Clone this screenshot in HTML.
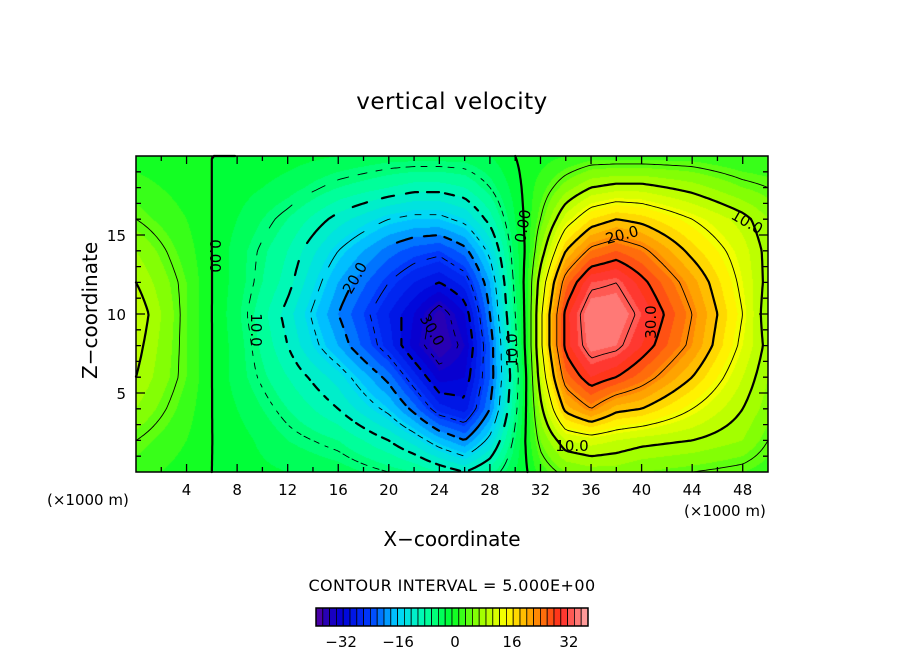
<!DOCTYPE html>
<html><head><meta charset="utf-8"><style>
body{margin:0;background:#fff;width:904px;height:654px;position:relative;overflow:hidden;font-family:"DejaVu Sans","Liberation Sans",sans-serif}
.t{position:absolute;color:#000;white-space:nowrap}
</style></head><body>
<div class="t" style="left:0;width:904px;text-align:center;top:89px;font-size:23px;letter-spacing:0.5px">vertical velocity</div>
<div class="t" style="left:0;width:904px;text-align:center;top:527px;font-size:20px">X&#8722;coordinate</div>
<div class="t" style="left:25px;top:302px;font-size:20px;transform:rotate(-90deg);transform-origin:center;width:130px;text-align:center">Z&#8722;coordinate</div>
<div class="t" style="left:47px;top:491px;font-size:15px">(×1000 m)</div>
<div class="t" style="left:684px;top:502px;font-size:15px">(×1000 m)</div>
<div class="t" style="left:0;width:904px;text-align:center;top:576px;font-size:16px;letter-spacing:0.4px">CONTOUR INTERVAL = 5.000E+00</div>
<canvas id="cv" width="632" height="316" style="position:absolute;left:136px;top:156px"></canvas>
<svg id="sv" width="904" height="654" style="position:absolute;left:0;top:0"></svg>
<script>
const xs=[0,4,6,8,12,16,20,22,24,26,28,30,31,32,34,36,38,40,44,48,50];
const zs=[20,18,16,14,12,10,8,6,4,2,0];
const rowZ20=[1,0,0,0,-1,-2,-3,-3,-3,-3,-2,0,1,1,2,3,3,3,3,2,2];
const rowZ18=[3,1,0,-1,-3,-6,-8,-9,-9,-8,-5,-1,1,3,7,10,11,11,9,6,5];
const rowZ16=[5,2,0,-2,-6,-11,-15,-16,-16,-14,-9,-2,1,5,13,18,20,19,15,11,8];
const rowZ14=[8,3,0,-3,-8,-15,-21,-23,-24,-21,-14,-3,1,8,20,26,28,26,19,13,9];
const rowZ12=[10,4,0,-3,-9,-18,-25,-28,-30,-27,-18,-4,2,12,27,34,35,31,23,14,9];
const rowZ10=[12,4,0,-3.5,-11,-20,-28,-32,-37,-32,-20,-5,2,14,31,38,38,34,25,15,8];
const rowZ8=[11,4,0,-3,-10,-18,-27,-33,-38,-34,-22,-6,2,14,31,37,36,32,24,14,9];
const rowZ6=[10,4,0,-3,-8,-13,-21,-27,-33,-32,-22,-7,1,12,27,32,30,27,20,12,8];
const rowZ4=[8,3,0,-2,-6,-10,-16,-21,-27,-29,-20,-6,1,9,21,25,21,20,15,10,7];
const rowZ2=[5,2,0,-1,-4,-6,-10,-13,-17,-20,-14,-4,1,6,12,13,12,11,10,8,5];
const rowZ0=[3,1,0,-1,-2,-3,-5,-6,-8,-10,-7,-2,0,3,6,7,7,6,5,4,3];
const grid=[rowZ20,rowZ18,rowZ16,rowZ14,rowZ12,rowZ10,rowZ8,rowZ6,rowZ4,rowZ2,rowZ0];
const xTicks=[4,8,12,16,20,24,28,32,36,40,44,48];
const zTicks=[5,10,15];
const cbTicks=[-32,-16,0,16,32];

const PX0=136,PX1=768,PY0=156,PY1=472;
const sx=x=>PX0+(x-0)/50*(PX1-PX0);
const sz=z=>PY1-(z-0)/20*(PY1-PY0);
function seg(arr,v){for(let i=0;i<arr.length-1;i++){const a=arr[i],b=arr[i+1];if((v>=Math.min(a,b))&&(v<=Math.max(a,b)))return [i,(v-a)/(b-a)];}return [arr.length-2,1];}
function field(x,z){const [i,tx]=seg(xs,x);const [j,tz]=seg(zs,z);
 const a=grid[j][i],b=grid[j][i+1],c=grid[j+1][i],d=grid[j+1][i+1];
 return (a*(1-tx)+b*tx)*(1-tz)+(c*(1-tx)+d*tx)*tz;}
const stops=[[-40,[90,0,160]],[-37,[40,0,180]],[-32,[0,0,215]],[-24,[0,60,255]],[-16,[0,210,255]],[-8,[0,255,170]],[0,[0,255,40]],[8,[150,255,0]],[16,[255,255,0]],[24,[255,150,0]],[32,[255,40,30]],[40,[255,170,170]]];
function col(v){v=Math.max(-40,Math.min(40,v));for(let k=0;k<stops.length-1;k++){const [a,ca]=stops[k],[b,cb]=stops[k+1];if(v<=b){const t=(v-a)/(b-a);return ca.map((c,i)=>Math.round(c+(cb[i]-c)*t));}}return stops[stops.length-1][1];}
const cv=document.getElementById('cv'),ctx=cv.getContext('2d');
const W=632,H=316,img=ctx.createImageData(W,H);
for(let py=0;py<H;py++)for(let px=0;px<W;px++){
 const x=(px+0.5)/W*50,z=20-(py+0.5)/H*20;let v=field(x,z);
 v=Math.floor(v/2)*2+1;const c=col(v);const o=(py*W+px)*4;img.data[o]=c[0];img.data[o+1]=c[1];img.data[o+2]=c[2];img.data[o+3]=255;}
ctx.putImageData(img,0,0);

const NS='http://www.w3.org/2000/svg',sv=document.getElementById('sv');
function mk(t,at){const e=document.createElementNS(NS,t);for(const k in at)e.setAttribute(k,at[k]);sv.appendChild(e);return e;}
const st=3,nx=Math.ceil(W/st)+1,ny=Math.ceil(H/st)+1,F=[];
for(let j=0;j<ny;j++){F[j]=[];for(let i=0;i<nx;i++){const px=Math.min(i*st,W),py=Math.min(j*st,H);F[j][i]=field(px/W*50,20-py/H*20);}}
for(let lv=-35;lv<=35;lv+=5){
 let d='';
 for(let j=0;j<ny-1;j++)for(let i=0;i<nx-1;i++){
  const x0=PX0+Math.min(i*st,W),x1=PX0+Math.min((i+1)*st,W),y0=PY0+Math.min(j*st,H),y1=PY0+Math.min((j+1)*st,H);
  const a=F[j][i],b=F[j][i+1],c=F[j+1][i+1],e=F[j+1][i];
  const pts=[];
  const ed=(va,vb,xa,ya,xb,yb)=>{if((va<lv)!==(vb<lv)){const t=(lv-va)/(vb-va);pts.push([xa+(xb-xa)*t,ya+(yb-ya)*t]);}};
  ed(a,b,x0,y0,x1,y0);ed(b,c,x1,y0,x1,y1);ed(c,e,x1,y1,x0,y1);ed(e,a,x0,y1,x0,y0);
  for(let k=0;k+1<pts.length;k+=2){const mx=(pts[k][0]+pts[k+1][0])/2,my=(pts[k][1]+pts[k+1][1])/2;
   if(lv<0){const per=Math.abs(lv)%10===0?10:7;if(Math.floor((mx+my)/per)%2)continue;}
   d+='M'+pts[k][0].toFixed(1)+' '+pts[k][1].toFixed(1)+'L'+pts[k+1][0].toFixed(1)+' '+pts[k+1][1].toFixed(1);}
 }
 const thick=(lv%10===0);
 const p=mk('path',{d:d,stroke:'#000','stroke-width':thick?2.2:0.9,fill:'none','stroke-linecap':'round'});
 
 
}
const labels=[[215,256,90,'0.00'],[523,226,-80,'0.00'],[256,330,90,'10.0'],[355,278,-60,'20.0'],[432,330,60,'30.0'],[512,350,-90,'10.0'],[622,235,-15,'20.0'],[651,322,-90,'30.0'],[747,222,30,'10.0'],[572,446,0,'10.0']];
labels.forEach(l=>{const t=mk('text',{x:l[0],y:l[1],'font-size':15,'font-family':'DejaVu Sans, sans-serif','text-anchor':'middle','dominant-baseline':'central',transform:`rotate(${l[2]} ${l[0]} ${l[1]})`});t.textContent=l[3];
 
 });
const fr=mk('rect',{x:PX0,y:PY0,width:PX1-PX0,height:PY1-PY0,fill:'none',stroke:'#000','stroke-width':1.5});


let td='';
for(let x=2;x<50;x+=2){const X=sx(x),L=(x%4===0)?8:5;td+=`M${X} ${PY1}v${-L}M${X} ${PY0}v${L}`;}
for(let z=1;z<20;z++){const Y=sz(z),L=(z%5===0)?9:5;td+=`M${PX0} ${Y}h${L}M${PX1} ${Y}h${-L}`;}
const tk=mk('path',{d:td,stroke:'#000','stroke-width':1.3});


xTicks.forEach(v=>{const t=mk('text',{x:sx(v),y:495,'font-size':15,'text-anchor':'middle','font-family':'DejaVu Sans, sans-serif'});t.textContent=v;
 
 });
zTicks.forEach(v=>{const t=mk('text',{x:126,y:sz(v)+6,'font-size':15,'text-anchor':'end','font-family':'DejaVu Sans, sans-serif'});t.textContent=v;
 
 });
const CB0=316,CB1=588,CBY=608,CBH=18;
for(let v=-40;v<40;v+=2){const x0=CB0+(v+40)/80*(CB1-CB0),w=(CB1-CB0)/40;const c=col(v+1);
 const r=mk('rect',{x:x0,y:CBY,width:w,height:CBH,fill:`rgb(${c})`,stroke:'#000','stroke-width':0.8});
 
 }
const cbf=mk('rect',{x:CB0,y:CBY,width:CB1-CB0,height:CBH,fill:'none',stroke:'#000','stroke-width':1.5});


const cbx=v=>455+v*3.56;
cbTicks.forEach(v=>{const t=mk('text',{x:cbx(v),y:647,'font-size':15,'text-anchor':'middle','font-family':'DejaVu Sans, sans-serif'});t.textContent=v<0?'\u2212'+(-v):v;
 
 });
</script>
</body></html>
